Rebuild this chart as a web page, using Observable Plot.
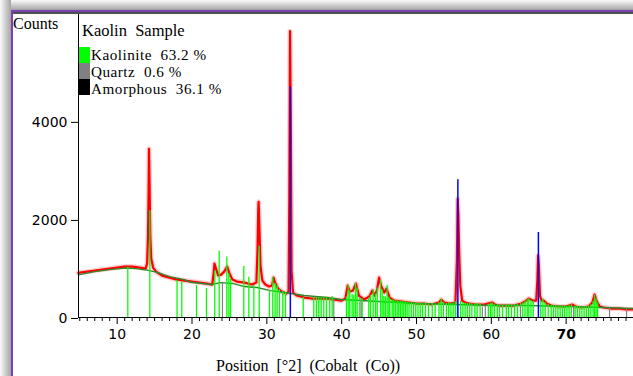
<!DOCTYPE html>
<html><head><meta charset="utf-8">
<script src="https://cdn.jsdelivr.net/npm/d3@7"></script>
<script src="https://cdn.jsdelivr.net/npm/@observablehq/plot@0.6"></script>
<style>
body{margin:0;background:#fff;width:633px;height:376px;overflow:hidden;position:relative;font-family:"Liberation Serif",serif;}
#chart{position:absolute;left:0;top:0;}
.deco{position:absolute;}
.lbl{position:absolute;font-family:"Liberation Serif",serif;font-size:16px;line-height:16px;height:16px;white-space:pre;color:#000;}
.leg{font-size:16.5px;line-height:16px;}
.row{font-size:15.2px;line-height:16px;letter-spacing:0.5px;}
.box{position:absolute;width:11px;height:16px;}
</style></head>
<body>
<div id="chart"></div>
<script>
// ---- data (2θ in degrees, counts) ----
const observedPattern = [
[4.83,910],[5,916],[6,936],[7,956],[8,977],[9,997],[10,1018],[11,1038],[12,1038],[13,1018],[13.8,997],
[14.0,1099],[14.12,1669],[14.2,2584],[14.25,3440],[14.32,2788],[14.42,1669],[14.55,1201],[14.8,1018],[15.2,936],
[16,855],[17,814],[18,773],[19,753],[20,733],[21,712],[22,692],[22.7,672],[22.9,916],[23.0,1099],[23.2,997],
[23.5,855],[23.9,875],[24.3,936],[24.7,1038],[25.0,895],[25.4,773],[26,733],[27,712],[28,672],[28.6,712],
[28.75,1363],[28.85,2177],[28.9,2361],[29.0,1872],[29.15,1058],[29.4,753],[29.8,672],[30.3,631],[30.7,651],
[30.9,814],[31.1,712],[31.5,590],[32,529],[32.6,488],[32.9,529],[33.0,2381],[33.1,5840],[33.2,4009],[33.3,956],
[33.5,509],[34,448],[35,407],[36,387],[37,387],[38,387],[39,366],[40,346],[40.5,387],[40.8,651],[41.1,529],
[41.5,549],[41.9,692],[42.3,448],[43,366],[43.7,427],[44.1,549],[44.4,448],[44.7,549],[45.0,814],[45.3,631],
[45.7,509],[46.0,590],[46.4,407],[47,346],[48,326],[49,305],[50,285],[51,285],[52,265],[53,305],[53.3,366],
[53.7,305],[54.5,285],[55.2,305],[55.4,1160],[55.5,2422],[55.6,2076],[55.7,1363],[55.85,651],[56.1,346],
[56.5,305],[57,285],[58,265],[59,265],[60.1,305],[60.5,265],[61,244],[62,244],[63,244],[64,285],[64.5,326],
[65.0,387],[65.5,346],[66.0,346],[66.15,753],[66.25,1262],[66.35,1058],[66.5,448],[66.7,346],[67.0,346],
[67.4,285],[68,244],[69,224],[70,224],[70.8,265],[71.3,224],[72,204],[73,224],[73.5,305],[73.8,468],
[74.1,326],[74.5,224],[75,204],[76,183],[77,183],[78,163],[79,163]
];
const backgroundCurve = [
[4.83,870],[5,875],[7,936],[9,977],[11,1007],[12.5,997],[14,967],[15.5,916],[17,834],[19,773],[19.8,718],
[22.6,672],[23.8,712],[25.5,692],[27,631],[28.7,611],[30.5,549],[33,495],[35,448],[38,407],[40,366],
[45,326],[50,285],[55,265],[60,244],[65,244],[70,224],[75,204],[79,183]
];
const kaoliniteSticks = [
[11.42,1024],[14.36,2177],[18.0,753],[18.63,733],[20.6,651],[21.93,590],[23.04,956],[23.63,1349],[24.65,1235],
[24.92,895],[25.15,773],[26.92,1038],[27.59,820],[28.26,651],[28.98,1451],[30.35,550],[30.79,814],[31.11,692],
[31.38,651],[31.69,570],[32.13,529],[32.49,509],[34.86,407],[36.27,407],[36.63,407],[36.94,400],[37.26,400],
[37.61,420],[37.97,400],[38.41,390],[38.73,430],
[40.64,420],[40.87,651],[41.08,550],[41.4,470],[41.62,450],[41.85,692],[42.07,600],[42.42,400],[42.74,380],
[43.62,400],[43.85,450],[44.21,560],[44.52,480],[44.75,600],[45.19,760],[45.41,560],[45.63,430],[45.85,420],
[46.08,651],[46.3,420],[46.43,380],[46.75,360],[46.96,350],[47.19,340],[47.42,340],[47.63,330],[47.86,330],
[48.09,320],[48.3,320],[48.53,320],[48.75,310],
[49.0,300],[49.3,310],[49.6,290],[49.9,300],[50.2,285],[50.5,295],[50.8,280],[51.2,290],[51.6,275],[52.1,285],
[52.5,270],[53.0,300],[53.3,366],[53.6,310],[54.0,290],[54.3,300],[54.6,285],[54.9,300],[55.2,320],[55.45,330],
[55.9,330],[56.2,300],[56.5,290],[56.8,285],[57.1,295],[57.4,280],[57.8,275],[58.1,285],[58.5,270],[59.6,270],
[59.9,290],[60.1,300],[60.4,270],[60.8,260],[61.1,255],[61.5,250],[62.0,255],[62.3,250],[62.7,260],[63.1,265],
[63.5,270],[63.9,285],[64.2,300],[64.5,330],[64.8,360],[65.0,380],[65.3,350],[65.6,330],[66.6,340],[66.9,380],
[67.2,300],[67.6,270],[68.0,250],[68.3,245],[68.6,240],[68.9,235],[69.2,240],[69.5,230],[69.8,235],[70.1,230],
[70.4,240],[70.7,260],[71.2,235],[71.5,225],[71.8,220],[72.1,215],[72.4,220],[72.7,225],[73.0,235],[73.3,260],
[73.6,330],[73.8,450],[74.0,380],[74.2,300]
];
const quartzSticks = [
[24.07,712],[38.95,366],[42.6,360],[58.8,210],[59.2,230],[63.9,230],[71.0,220],[75.8,190],[78.07,180]
];
const referenceSticks = [[33.14,4700],[55.53,2810],[66.29,1735]];
const yTicks = [0, 2000, 4000];
const xTicks = [10, 20, 30, 40, 50, 60];
const xTicksBold = [70];
const xMinorTicks = d3.range(5, 80).filter(d => d % 10 !== 0);
const yLabel = "Counts";
const xLabel = "Position  [°2]  (Cobalt  (Co))";
const sampleName = "Kaolin  Sample";
const legendLabels = ["Kaolinite  63.2 %", "Quartz  0.6 %", "Amorphous  36.1 %"];
const legendColors = ["#00ff00", "#808080", "#000000"];

const xDomain = [4.83, 79];
const X = d => d[0], Y = d => d[1];

const plot = Plot.plot({
  width: 633, height: 376,
  marginLeft: 78, marginRight: 0, marginTop: 13, marginBottom: 59,
  style: {fontFamily: "DejaVu Sans", fontSize: "14px", background: "transparent", color: "#000"},
  x: {domain: xDomain},
  y: {domain: [0, 6200]},
  marks: [
    Plot.line(observedPattern, {x: X, y: Y, stroke: "#ff5050", strokeOpacity: 0.28, strokeWidth: 5}),
    Plot.line(observedPattern, {x: X, y: Y, stroke: "#ff0000", strokeWidth: 2.2}),
    Plot.line(backgroundCurve, {x: X, y: Y, stroke: "#2f8a2f", strokeWidth: 1.4}),
    Plot.ruleX(kaoliniteSticks, {x: X, y1: 0, y2: Y, stroke: "#00ff00", strokeWidth: 1.3}),
    Plot.ruleX(quartzSticks, {x: X, y1: 0, y2: Y, stroke: "#808080", strokeWidth: 1.2}),
    Plot.ruleX(referenceSticks, {x: X, y1: 0, y2: Y, stroke: "#0000ff", strokeWidth: 1.5}),
    Plot.ruleY([0], {stroke: "#000"}),
    Plot.ruleX([xDomain[0]], {stroke: "#000"}),
    Plot.axisY({ticks: yTicks, tickSize: 7, tickPadding: 4, label: null, tickFormat: d => String(d), dy: 1}),
    Plot.axisX({ticks: xMinorTicks, tickSize: 4, tickFormat: () => "", label: null}),
    Plot.axisX({ticks: xTicks, tickSize: 7, tickPadding: 5, label: null}),
    Plot.axisX({ticks: xTicksBold, tickSize: 7, tickPadding: 5, label: null, fontWeight: "bold"})
  ]
});
document.getElementById("chart").appendChild(plot);

function add(cls, css, text) {
  const el = document.createElement("div");
  el.className = cls;
  el.style.cssText = css;
  if (text != null) el.textContent = text;
  document.body.appendChild(el);
  return el;
}
// window frame decoration
add("deco", "left:0;top:0;width:633px;height:10px;background:linear-gradient(to bottom,#fbfbfb,#a4a4a4);");
add("deco", "left:0;top:0;width:11px;height:376px;background:linear-gradient(to right,#fbfbfb,#a4a4a4);");
add("deco", "left:11px;top:10px;width:622px;height:2px;background:#7a3fb0;");
add("deco", "left:11px;top:10px;width:2px;height:366px;background:#7a3fb0;");
add("deco", "left:13px;top:12px;width:620px;height:2px;background:#505050;");
// texts
add("lbl", "left:13px;top:16px;", yLabel);
add("lbl", "left:216px;top:358px;", xLabel);
add("lbl leg", "left:82px;top:23px;", sampleName);
legendLabels.forEach((t, i) => {
  add("box", `left:79px;top:${47 + i * 16}px;background:${legendColors[i]};`);
  add("lbl row", `left:91px;top:${46.5 + i * 17}px;`, t);
});
</script>
</body></html>
